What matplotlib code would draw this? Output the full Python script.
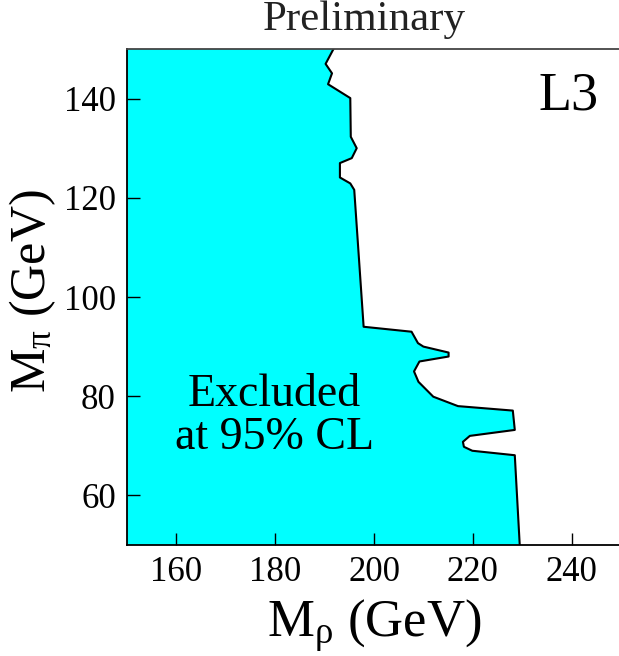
"""
L3 preliminary exclusion region in the (M_rho, M_pi) plane.
"""
import matplotlib
matplotlib.use("Agg")
import matplotlib.pyplot as plt

matplotlib.rcParams.update({
    "font.family": "serif",
    "font.serif": ["Liberation Serif", "DejaVu Serif"],
    "mathtext.default": "regular",
    "xtick.direction": "in", "ytick.direction": "in",
    "xtick.major.size": 9, "ytick.major.size": 9,
    "xtick.major.width": 1.0, "ytick.major.width": 1.0,
    "axes.linewidth": 1.3,
})
CYAN = "#00FFFF"

# exclusion contour (top -> bottom)
m_rho = [191.8, 190.2, 191.5, 190.7, 195.2, 195.3, 196.5, 195.5, 193.1,
         193.1, 195.2, 196.0, 197.9, 207.6, 208.9, 210.0, 215.1, 215.1,
         209.2, 208.1, 209.0, 212.0, 217.0, 228.1, 228.5, 219.4, 218.0,
         218.2, 219.9, 228.5, 229.5]
m_pi = [150.0, 147.0, 145.1, 142.9, 140.1, 132.3, 130.0, 128.0, 127.0,
        124.1, 122.9, 121.6, 94.0, 93.0, 90.7, 90.0, 88.8, 88.0,
        87.0, 85.0, 82.9, 79.9, 78.0, 77.1, 73.2, 72.0, 70.8,
        69.8, 69.0, 68.1, 50.0]

x_ticks = [160, 180, 200, 220, 240]
y_ticks = [60, 80, 100, 120, 140]
x_lim = (150, 250)
y_lim = (50, 150)

fig = plt.figure(figsize=(6.19, 6.56), dpi=100)
ax = fig.add_axes([127 / 619, 111 / 656, 494 / 619, 496 / 656])

# filled excluded region: left edge of the plot up to the contour
poly_x = m_rho + [x_lim[0], x_lim[0]]
poly_y = m_pi + [y_lim[0], y_lim[1]]
ax.fill(poly_x, poly_y, color=CYAN, lw=0, zorder=1)
ax.plot(m_rho, m_pi, color="black", lw=1.5, zorder=2)

ax.set_xlim(*x_lim)
ax.set_ylim(*y_lim)
ax.set_xticks(x_ticks)
ax.set_yticks(y_ticks)
ax.tick_params(labelsize=25, pad=8)
ax.spines["top"].set_color("#444444")
for s in ax.spines.values():
    s.set_zorder(3)

ax.set_xlabel(r"M$_{\rho}$ (GeV)", fontsize=38, labelpad=6)
ax.set_ylabel(r"M$_{\pi}$ (GeV)", fontsize=36)
ax.yaxis.set_label_coords(-0.14, 0.512)

ax.text(0.298, 0.26, "Excluded\nat 95% CL", transform=ax.transAxes,
        fontsize=33, ha="center", va="center", linespacing=1.0)
ax.text(0.955, 0.955, "L3", transform=ax.transAxes,
        fontsize=39, ha="right", va="top")
fig.text(364 / 619, 0.97, "Preliminary", fontsize=31, color="#222222",
         ha="center", va="center")

fig.savefig("out.png", dpi=100)
